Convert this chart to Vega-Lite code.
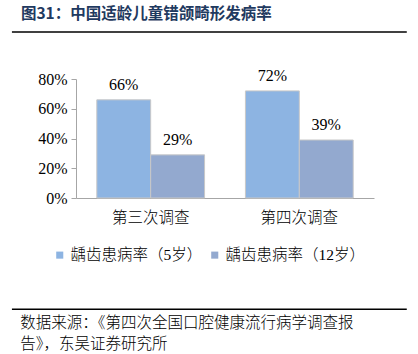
{
  "$schema": "https://vega.github.io/schema/vega-lite/v6.json",
  "padding": {"left": 11, "top": 6, "right": 10, "bottom": 0},
  "background": "white",
  "spacing": 42,
  "bounds": "flush",
  "resolve": {"legend": {"color": "independent"}},
  "config": {"view": {"stroke": null}, "font": "Liberation Serif, Noto Sans CJK SC"},
  "vconcat": [
    {
      "width": 298,
      "height": 10,
      "data": {"values": [{"a": -0.215, "b": 1.11, "t": 0.42, "u": 0.58}]},
      "title": {"text": "图31：中国适龄儿童错颌畸形发病率", "anchor": "start", "frame": "bounds", "offset": 5, "fontSize": 15.5, "fontWeight": "bold", "color": "#1F3A60", "font": "Noto Sans CJK SC", "dx": 9},
      "mark": {"type": "rect", "color": "#000000", "opacity": 1},
      "encoding": {
        "x": {"field": "a", "type": "quantitative", "axis": null, "scale": {"domain": [0, 1], "nice": false, "zero": false}},
        "x2": {"field": "b"},
        "y": {"field": "t", "type": "quantitative", "axis": null, "scale": {"domain": [0, 1], "nice": false, "zero": false}},
        "y2": {"field": "u"}}
    },
    {
      "width": 298,
      "height": 119,
      "data": {"values": [
        {"survey": "第三次调查", "series": "龋齿患病率（5岁）", "value": 0.66},
        {"survey": "第三次调查", "series": "龋齿患病率（12岁）", "value": 0.29},
        {"survey": "第四次调查", "series": "龋齿患病率（5岁）", "value": 0.72},
        {"survey": "第四次调查", "series": "龋齿患病率（12岁）", "value": 0.39}
      ]},
      "encoding": {
        "x": {"field": "survey", "type": "nominal", "sort": null, "title": null,
          "scale": {"paddingInner": 0.275, "paddingOuter": 0.14},
          "axis": {"labelAngle": 0, "ticks": false, "domainColor": "#A6A6A6", "labelFontSize": 15.5, "labelFont": "Noto Sans CJK SC", "labelFontWeight": 300, "labelColor": "#000", "labelPadding": 12}},
        "xOffset": {"field": "series", "type": "nominal", "sort": null},
        "y": {"field": "value", "type": "quantitative", "title": null,
          "scale": {"domain": [0, 0.8], "nice": false},
          "axis": {"format": ".0%", "values": [0, 0.2, 0.4, 0.6, 0.8], "grid": false, "domainColor": "#A6A6A6", "tickColor": "#A6A6A6", "tickSize": 5, "labelFontSize": 16, "labelColor": "#000", "labelFont": "Liberation Serif", "labelPadding": 4}},
        "color": {"field": "series", "type": "nominal", "sort": null,
          "scale": {"range": ["#8DB4E2", "#93A9CF"]},
          "legend": {"orient": "none", "legendX": -24, "legendY": 168, "direction": "horizontal", "title": null, "symbolType": "square", "symbolSize": 50, "symbolStrokeWidth": 0, "labelFontSize": 15.5, "labelFont": "Liberation Serif, Noto Sans CJK SC", "labelFontWeight": 300, "labelColor": "#000", "columnPadding": 4, "labelOffset": 3, "labelLimit": 300}}
      },
      "layer": [
        {"mark": {"type": "bar", "stroke": "#C8C8C8", "strokeWidth": 1}},
        {"mark": {"type": "text", "dy": -15, "fontSize": 16, "font": "Liberation Serif", "color": "#000"},
          "encoding": {"text": {"field": "value", "type": "quantitative", "format": ".0%"}, "color": {"value": "#000"}}}
      ]
    },
    {
      "width": 298,
      "height": 70,
      "data": {"values": [{"a": -0.215, "b": 1.11, "y": 0.01}]},
      "title": {"text": ["数据来源：《第四次全国口腔健康流行病学调查报", "告》，东吴证券研究所"], "orient": "bottom", "anchor": "start", "frame": "bounds", "offset": 6, "fontSize": 15.5, "fontWeight": 300, "color": "#000", "font": "Noto Sans CJK SC", "lineHeight": 21, "dx": 9},
      "mark": {"type": "rule", "color": "#000000", "strokeWidth": 1.5},
      "encoding": {
        "x": {"field": "a", "type": "quantitative", "axis": null, "scale": {"domain": [0, 1], "nice": false, "zero": false}},
        "x2": {"field": "b"},
        "y": {"field": "y", "type": "quantitative", "axis": null, "scale": {"domain": [0, 1], "zero": false, "nice": false}}}
    }
  ]
}
